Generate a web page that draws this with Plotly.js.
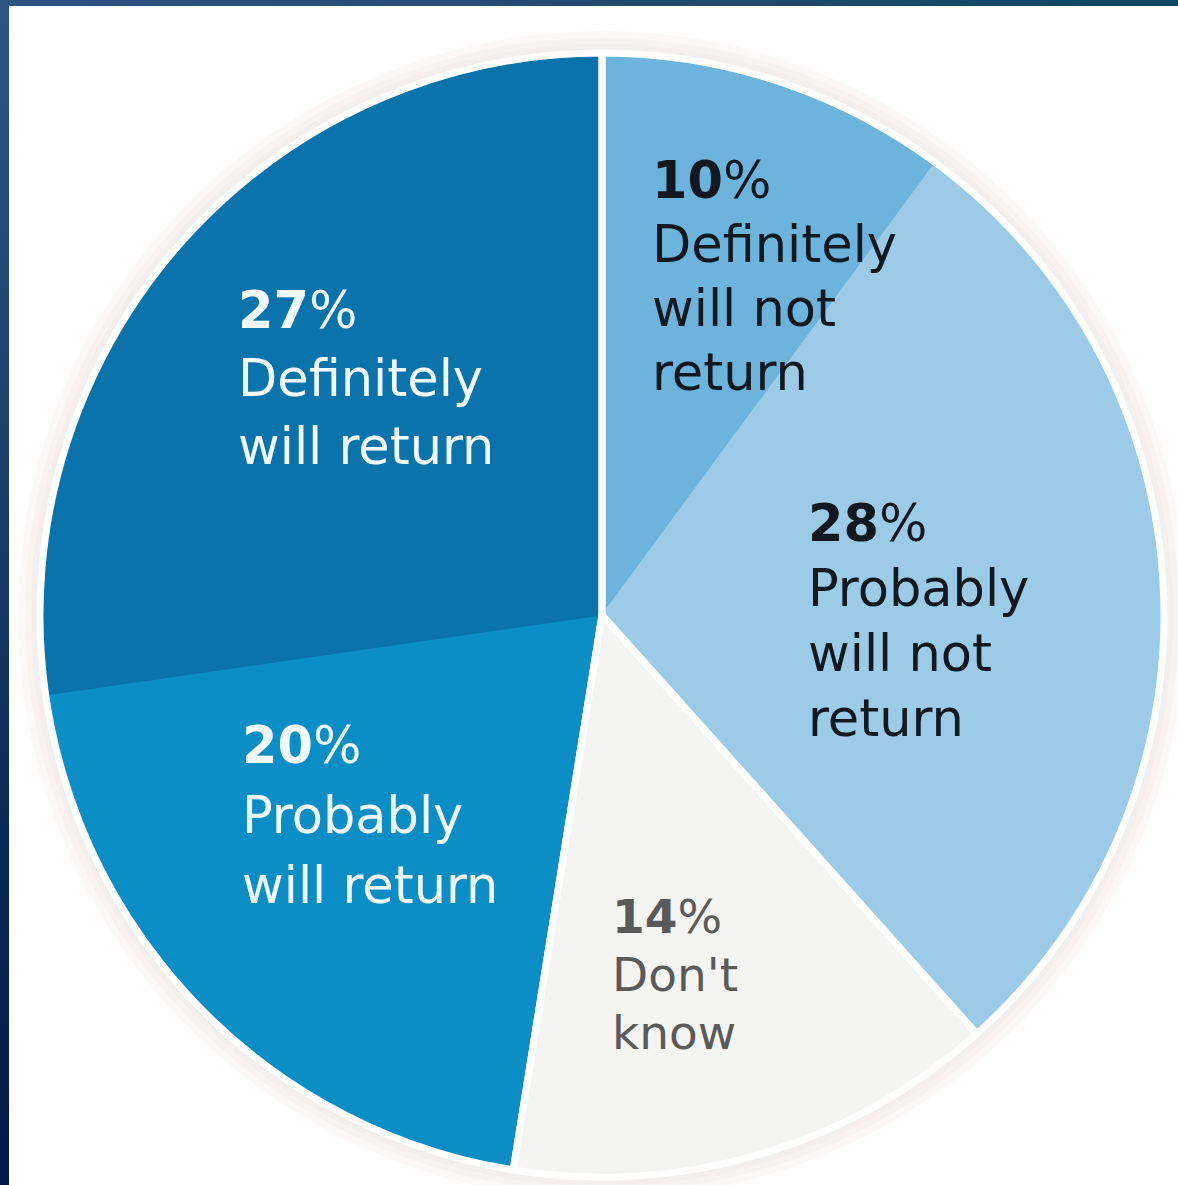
<!DOCTYPE html>
<html>
<head>
<meta charset="utf-8">
<script src="https://cdn.plot.ly/plotly-3.0.1.min.js"></script>
<style>
  html, body { margin: 0; padding: 0; background: #ffffff; }
  #wrap { position: relative; width: 1178px; height: 1185px; overflow: hidden; }
  #chart { position: absolute; left: 0; top: 0; width: 1178px; height: 1185px; }
  #topbar { position: absolute; left: 0; top: 0; width: 1178px; height: 6px;
            background: linear-gradient(to right, #2f5482, #234a72 50%, #0d4862); pointer-events: none; }
  #leftbar { position: absolute; left: 0; top: 0; width: 9px; height: 1185px;
             background: linear-gradient(to bottom, #2f5585, #1c3f68 40%, #0a2a55 70%, #001a45); pointer-events: none; }
</style>
</head>
<body>
<div id="wrap">
  <div id="chart"></div>
  <div id="topbar"></div>
  <div id="leftbar"></div>
</div>
<script>
// ---- data ----
const categories = [
  "Definitely will not return",
  "Probably will not return",
  "Don't know",
  "Probably will return",
  "Definitely will return"
];
const values = [10, 28, 14, 20, 27];
const labelLines = [
  ["Definitely", "will not", "return"],
  ["Probably", "will not", "return"],
  ["Don't", "know"],
  ["Probably", "will return"],
  ["Definitely", "will return"]
];
// answer groups separated by white gaps in the chart (indices into categories)
const groupNames = ["Will not return", "Don't know", "Will return"];
const groupMembers = [[0, 1], [2], [3, 4]];

// ---- styles ----
const sliceColors = ["#6cb4dc", "#9ccbe8", "#f4f4f2", "#0b8ec6", "#0a73ac"];
const textColors  = ["#111820", "#111820", "#5a5a5a", "#f0faff", "#f0faff"];
const fontSizes   = [51, 51, 47, 51, 51];
const lineGaps    = [64, 65, 58, 70, 68];
// anchor positions in pixels (x of left edge, y of first baseline from top)
const anchors = [[650, 200], [806, 543], [610, 935], [240, 765], [236, 330]];

const W = 1178, H = 1185;
const cx = 602, cy = 615, R = 562;

const annotations = [];
values.forEach((v, i) => {
  const lines = ["<b>" + v + "</b>%"].concat(labelLines[i]);
  lines.forEach((ln, j) => {
    const baseY = anchors[i][1] + j * lineGaps[i];
    annotations.push({
      xref: "paper", yref: "paper",
      x: anchors[i][0] / W,
      y: 1 - baseY / H,
      xanchor: "left", yanchor: "bottom",
      yshift: -fontSizes[i] * 0.24,
      text: ln,
      showarrow: false,
      align: "left",
      font: { family: "DejaVu Sans, sans-serif", size: fontSizes[i], color: textColors[i] }
    });
  });
});

// soft halo behind the pie
const shapes = [];
[[22, "rgba(245,236,234,0.35)"], [15, "rgba(243,232,230,0.4)"], [9, "rgba(240,232,232,0.45)"], [4, "rgba(236,240,244,0.6)"]].forEach(([d, c]) => {
  shapes.push({
    type: "circle", xref: "paper", yref: "paper", layer: "below",
    x0: (cx - R - d) / W, x1: (cx + R + d) / W,
    y0: 1 - (cy + R + d) / H, y1: 1 - (cy - R - d) / H,
    fillcolor: c, line: { width: 0 }
  });
});

const domain = {
  x: [(cx - R) / W, (cx + R) / W],
  y: [1 - (cy + R) / H, 1 - (cy - R) / H]
};

const slices = {
  type: "pie",
  labels: categories,
  values: values,
  sort: false,
  direction: "clockwise",
  rotation: 0,
  textinfo: "none",
  hoverinfo: "label+percent",
  marker: { colors: sliceColors, line: { color: sliceColors, width: 1 } },
  domain: domain,
  showlegend: false
};

const groupValues = groupMembers.map(m => m.reduce((s, k) => s + values[k], 0));
const separators = {
  type: "pie",
  labels: groupNames,
  values: groupValues,
  sort: false,
  direction: "clockwise",
  rotation: 0,
  textinfo: "none",
  hoverinfo: "skip",
  marker: { colors: groupNames.map(() => "rgba(0,0,0,0)"), line: { color: "#ffffff", width: 7 } },
  domain: domain,
  showlegend: false
};

const layout = {
  width: W, height: H,
  margin: { l: 0, r: 0, t: 0, b: 0 },
  paper_bgcolor: "#ffffff",
  plot_bgcolor: "#ffffff",
  showlegend: false,
  annotations: annotations,
  shapes: shapes
};

Plotly.newPlot("chart", [slices, separators], layout, { displayModeBar: false, staticPlot: true });
</script>
</body>
</html>
